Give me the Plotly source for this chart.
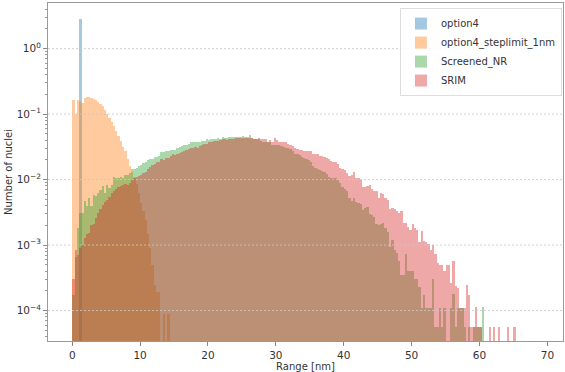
import numpy as np
import plotly.graph_objects as go

BIN_W = 1.0 / 3.0  # nm, histogram bin width
OPTION4_BIN_W = 0.42  # nm, option4 uses its own (narrow-range) binning

series_names = ["option4", "option4_steplimit_1nm", "Screened_NR", "SRIM"]
series_colors = ["#1f77b4", "#ff7f0e", "#2ca02c", "#d62728"]

option4_center = [1.2]
option4 = [2.88]

steplimit = [0.165, 0.10, 0.165, 0.16, 0.15, 0.178, 0.18, 0.18, 0.175, 0.17,
             0.165, 0.155, 0.145, 0.133, 0.117, 0.10, 0.088, 0.076, 0.065, 0.055,
             0.046, 0.039, 0.032, 0.027, 0.021, 0.016, 0.013, 0.011, 0.0085, 0.0062,
             0.0044, 0.0033, 0.0024, 0.0015, 0.0009, 0.0005, 0.00025, 0.00019, 0.00019, None,
             9e-5, None, 9e-5]

screened_nr = [1.7e-4, 6.5e-4, 1.8e-3, 3.1e-3, 3.1e-3, 4.7e-3, 3.9e-3, 5.2e-3, 3.9e-3, 5.8e-3,
               5.7e-3, 6.2e-3, 7.0e-3, 8.1e-3, 6.2e-3, 8.3e-3, 7.4e-3, 8.3e-3, 1.1e-2, 1.04e-2,
               1.04e-2, 1.1e-2, 1.04e-2, 1.18e-2, 1.18e-2, 1.28e-2, 1.45e-2, 1.43e-2, 1.53e-2, 1.62e-2,
               1.67e-2, 1.77e-2, 1.88e-2, 1.97e-2, 2.1e-2, 2.1e-2, 2.21e-2, 2.25e-2, 2.32e-2, 2.6e-2,
               2.65e-2, 2.7e-2, 2.7e-2, 2.88e-2, 2.8e-2, 2.8e-2, 3.05e-2, 3.16e-2, 3.27e-2, 3.36e-2,
               3.4e-2, 3.55e-2, 3.7e-2, 3.77e-2, 3.7e-2, 3.77e-2, 3.7e-2, 3.95e-2, 3.9e-2, 4.13e-2,
               4.0e-2, 4.2e-2, 4.13e-2, 4.2e-2, 4.3e-2, 4.2e-2, 4.4e-2, 4.3e-2, 4.3e-2, 4.5e-2,
               4.5e-2, 4.53e-2, 4.5e-2, 4.5e-2, 4.53e-2, 4.65e-2, 4.5e-2, 4.5e-2, 4.85e-2, 4.3e-2,
               4.22e-2, 4.13e-2, 4.13e-2, 3.9e-2, 3.77e-2, 3.77e-2, 3.7e-2, 3.7e-2, 3.4e-2, 3.4e-2,
               3.4e-2, 3.36e-2, 3.27e-2, 3.16e-2, 3.05e-2, 3.05e-2, 2.9e-2, 2.77e-2, 2.5e-2, 2.44e-2,
               2.37e-2, 2.18e-2, 2.16e-2, 2.1e-2, 1.97e-2, 1.88e-2, 1.62e-2, 1.53e-2, 1.45e-2, 1.4e-2,
               1.35e-2, 1.32e-2, 1.2e-2, 1.1e-2, 1.07e-2, 1.07e-2, 1.04e-2, 9.9e-3, 8.8e-3, 7.8e-3,
               7.3e-3, 6.6e-3, 5.2e-3, 4.7e-3, 5.3e-3, 4.6e-3, 4.4e-3, 4.2e-3, 3.4e-3, 3.7e-3,
               3.8e-3, 3.0e-3, 2.9e-3, 2.7e-3, 2.1e-3, 2.0e-3, 2.1e-3, 2.2e-3, 1.8e-3, 1.6e-3,
               9.5e-4, 1.2e-3, 8.5e-4, 7.5e-4, 5.8e-4, 3.5e-4, 3.5e-4, 7.2e-4, 4.0e-4, 4.0e-4,
               4.0e-4, 3.0e-4, 3.0e-4, 2.3e-4, 1.1e-4, 1.7e-4, 1.1e-4, 1.1e-4, 1.1e-4, 3.0e-4,
               5.6e-5, 5.6e-5, 1.1e-4, 5.6e-5, 1.1e-4, None, None, 1.1e-4, 1.8e-4, 5.6e-5,
               1.1e-4, 1.1e-4, 1.1e-4, 5.6e-5, None, 5.6e-5, None, 5.6e-5, 5.6e-5, 5.6e-5,
               5.6e-5, 1.12e-4]

srim = [3.0e-4, 8.5e-4, 7.0e-4, 9.0e-4, 1.0e-3, 1.3e-3, 1.5e-3, 1.55e-3, 2.0e-3, 2.1e-3,
        2.6e-3, 3.1e-3, 3.5e-3, 4.1e-3, 4.6e-3, 4.9e-3, 5.5e-3, 6.2e-3, 6.7e-3, 7.3e-3,
        7.8e-3, 8.1e-3, 8.3e-3, 8.5e-3, 8.3e-3, 8.9e-3, 9.9e-3, 1.05e-2, 1.1e-2, 1.12e-2,
        1.18e-2, 1.25e-2, 1.32e-2, 1.45e-2, 1.57e-2, 1.67e-2, 1.75e-2, 1.88e-2, 1.88e-2, 2.05e-2,
        1.98e-2, 2.16e-2, 2.16e-2, 2.32e-2, 2.44e-2, 2.37e-2, 2.45e-2, 2.53e-2, 2.65e-2, 2.77e-2,
        2.8e-2, 2.92e-2, 3.0e-2, 3.05e-2, 3.16e-2, 3.05e-2, 3.27e-2, 3.4e-2, 3.52e-2, 3.55e-2,
        3.7e-2, 3.7e-2, 3.85e-2, 3.85e-2, 3.95e-2, 4.0e-2, 4.13e-2, 4.13e-2, 4.05e-2, 4.13e-2,
        4.13e-2, 4.22e-2, 4.3e-2, 4.3e-2, 4.3e-2, 4.3e-2, 4.37e-2, 4.3e-2, 4.3e-2, 4.3e-2,
        4.22e-2, 4.22e-2, 4.3e-2, 4.13e-2, 4.13e-2, 4.13e-2, 3.8e-2, 4.0e-2, 3.77e-2, 4.3e-2,
        4.0e-2, 3.77e-2, 3.7e-2, 3.77e-2, 3.7e-2, 3.55e-2, 3.4e-2, 3.27e-2, 3.05e-2, 2.9e-2,
        2.8e-2, 2.8e-2, 2.7e-2, 2.77e-2, 2.7e-2, 2.7e-2, 2.5e-2, 2.47e-2, 2.44e-2, 2.32e-2,
        2.32e-2, 2.23e-2, 2.16e-2, 2.1e-2, 1.93e-2, 1.88e-2, 1.83e-2, 1.71e-2, 1.5e-2, 1.45e-2,
        1.4e-2, 1.25e-2, 1.15e-2, 1.17e-2, 1.29e-2, 1.07e-2, 1.04e-2, 9.9e-3, 7.6e-3, 7.8e-3,
        8.1e-3, 8.3e-3, 7.3e-3, 6.6e-3, 6.7e-3, 5.2e-3, 6.2e-3, 6.0e-3, 5.2e-3, 4.9e-3,
        3.5e-3, 3.7e-3, 3.6e-3, 3.3e-3, 3.1e-3, 3.3e-3, 2.2e-3, 2.2e-3, 1.9e-3, 1.7e-3,
        2.1e-3, 1.8e-3, 1.7e-3, 1.13e-3, 1.65e-3, 1.15e-3, 1.1e-3, 1.04e-3, 8.3e-4, 1.0e-3,
        7.2e-4, 5.4e-4, 5.0e-4, 5.0e-4, 4.0e-4, 5.0e-4, 5.0e-4, 2.6e-4, 5.8e-4, 2.4e-4,
        2.2e-4, 1.1e-4, 1.1e-4, 1.1e-4, 2.5e-4, 1.7e-4, 5.7e-5, 5.7e-5, 1.15e-4, 5.7e-5,
        5.7e-5, None, None, None, 5.7e-5, None, 5.7e-5, None, 5.7e-5, None,
        None, None, 5.7e-5, None, None, 5.7e-5]

x_ticks = [0, 10, 20, 30, 40, 50, 60, 70]
y_ticks = [1e-4, 1e-3, 1e-2, 1e-1, 1e0]
y_ticktext = ["10<sup>\u22124</sup>", "10<sup>\u22123</sup>", "10<sup>\u22122</sup>",
              "10<sup>\u22121</sup>", "10<sup>0</sup>"]

fig = go.Figure()

# option4: single narrow bin
fig.add_trace(go.Bar(
    x=option4_center, y=option4, width=OPTION4_BIN_W, name=series_names[0],
    marker=dict(color=series_colors[0], line=dict(width=0)), opacity=0.4,
))

for name, color, vals in zip(series_names[1:], series_colors[1:], [steplimit, screened_nr, srim]):
    centers = (np.arange(len(vals)) + 0.5) * BIN_W
    fig.add_trace(go.Bar(
        x=centers, y=vals, width=BIN_W, name=name,
        marker=dict(color=color, line=dict(width=0)),
        opacity=0.4,
    ))

FONT = "DejaVu Sans"
y_lo, y_hi = -4.465, 0.697

# horizontal dotted grid drawn above the bars (as in the reference)
for v in y_ticks:
    fig.add_shape(type="line", xref="paper", x0=0, x1=1, yref="y", y0=v, y1=v,
                  line=dict(color="rgba(200,200,200,0.85)", width=1, dash="2px,2px"),
                  layer="above")

minor_vals = [m * 10.0 ** e for e in range(-5, 1) for m in range(2, 10)]

fig.update_layout(
    width=565, height=372,
    margin=dict(l=48, r=1, t=3, b=28),
    barmode="overlay", bargap=0,
    plot_bgcolor="white", paper_bgcolor="white",
    font=dict(family=FONT, size=10, color="#333"),
    showlegend=True,
    legend=dict(x=0.998, xanchor="right", y=0.985, yanchor="top",
                bgcolor="rgba(255,255,255,0.85)", bordercolor="#dddddd", borderwidth=1,
                font=dict(family=FONT, size=10, color="#333"),
                itemwidth=30, tracegroupgap=0),
    xaxis=dict(range=[-3.57, 72.3], tickvals=x_ticks, ticks="outside", ticklen=4,
               tickcolor="#888", showgrid=False, zeroline=False,
               showline=True, linecolor="#999", linewidth=1, mirror=True,
               tickfont=dict(size=10.5),
               title=dict(text="Range [nm]", standoff=3, font=dict(size=10))),
    yaxis=dict(type="log", range=[y_lo, y_hi], tickvals=y_ticks, ticktext=y_ticktext,
               ticks="outside", ticklen=4, tickcolor="#888", showgrid=False,
               zeroline=False, showline=True, linecolor="#999", linewidth=1, mirror=True,
               tickfont=dict(size=10.5),
               minor=dict(tickvals=minor_vals, ticks="outside", ticklen=2, tickcolor="#999",
                          showgrid=False),
               title=dict(text="Number of nuclei", standoff=2, font=dict(size=10))),
)

fig.write_html("out.html")
